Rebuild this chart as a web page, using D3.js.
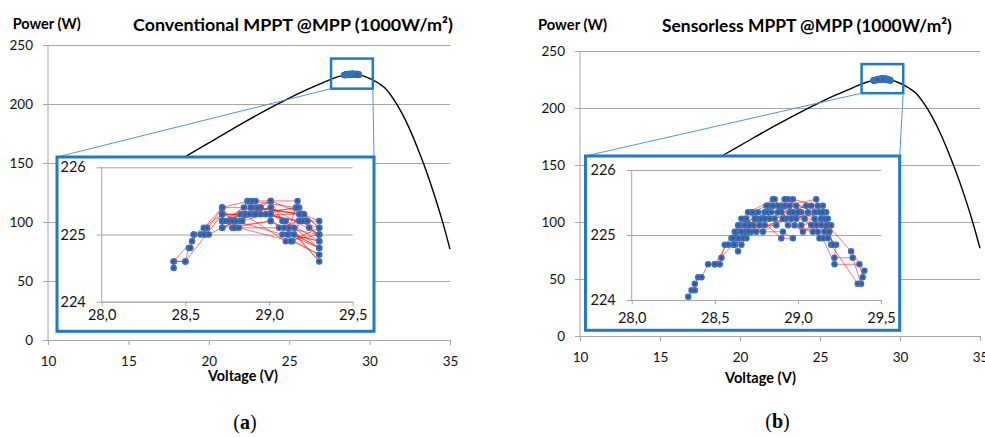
<!DOCTYPE html>
<html>
<head>
<meta charset="utf-8">
<script src="https://cdn.jsdelivr.net/npm/d3@7"></script>
<style>
  body { margin: 0; background: #fff; }
  svg { display: block; }
</style>
</head>
<body>
<svg id="chart" width="985" height="437"></svg>
<script>
// P-V curve at 1000 W/m2 (same panel background for both)
const curveV = [12, 14, 16, 18, 20, 22, 24, 25, 26, 27, 27.5, 28, 28.5, 29, 29.5, 30, 30.5, 31, 31.5, 32, 32.5, 33, 33.5, 34, 34.5, 35]
const curveP = [101, 118, 135, 151, 167, 183, 198, 205, 211.5, 217.5, 220.5, 223, 224.7, 225.2, 224.3, 221.7, 218, 213, 204, 192.5, 178.5, 162, 144, 124, 102, 77]

const xTicks = [10, 15, 20, 25, 30, 35]
const yTicks = [0, 50, 100, 150, 200, 250]
const insetXTicks = [28.0, 28.5, 29.0, 29.5]
const insetYTicks = [224, 225, 226]

// operating points [V, P] in time order
const trackA = [
  [28.43, 224.5], [28.43, 224.6], [28.50, 224.6], [28.52, 224.8], [28.53, 224.8], [28.54, 224.9], [28.55, 225.0], [28.59, 225.0],
  [28.61, 225.1], [28.62, 225.0], [28.63, 225.1], [28.64, 225.0], [28.72, 225.1], [28.72, 225.2], [28.72, 225.3], [28.72, 225.4],
  [28.78, 225.2], [28.80, 225.1], [28.83, 225.3], [28.87, 225.5], [28.90, 225.4], [29.01, 225.5], [29.08, 225.2], [29.12, 225.0],
  [29.30, 224.9], [29.17, 225.5], [28.92, 225.5], [28.72, 225.2], [29.01, 225.4], [29.30, 225.0], [29.10, 224.9], [28.85, 225.3],
  [28.72, 225.3], [29.01, 225.3], [29.30, 225.1], [29.20, 225.3], [28.95, 225.4], [28.78, 225.1], [29.01, 225.2], [29.30, 224.8],
  [29.15, 225.1], [28.88, 225.5], [28.72, 225.4], [28.43, 224.6], [28.50, 224.6], [28.72, 225.3], [28.83, 225.2], [29.01, 225.5],
  [29.30, 225.2], [29.22, 225.2], [29.18, 225.4], [28.90, 225.3], [28.72, 225.1], [28.80, 225.2], [29.08, 225.0], [29.30, 224.7],
  [29.14, 224.9], [29.19, 225.3], [28.93, 225.4], [28.72, 225.2], [28.86, 225.3], [29.01, 225.4], [29.30, 224.6], [29.12, 225.1],
  [29.16, 225.4], [28.90, 225.5], [28.74, 225.2], [28.79, 225.1], [29.09, 225.1], [29.30, 225.0], [29.24, 225.1], [29.20, 225.2],
  [28.95, 225.3], [28.72, 225.3], [28.55, 225.0], [28.61, 225.0], [28.72, 225.4], [28.85, 225.4], [29.01, 225.3], [29.10, 225.2],
  [29.30, 224.9], [29.15, 225.0], [29.21, 225.3], [28.89, 225.4], [28.76, 225.2], [28.82, 225.1], [29.13, 224.9], [29.30, 225.1],
  [29.17, 225.4], [28.88, 225.3], [28.72, 225.1], [29.01, 225.2], [29.30, 224.8], [29.11, 225.0], [29.18, 225.3], [28.92, 225.3],
  [28.78, 225.2], [28.84, 225.2], [28.98, 225.3], [29.06, 225.1], [29.18, 225.2], [29.23, 225.2]
]

const trackB = [
  [28.34, 224.05], [28.36, 224.15], [28.38, 224.15], [28.38, 224.25], [28.40, 224.35], [28.42, 224.35], [28.46, 224.55], [28.50, 224.55],
  [28.53, 224.55], [28.54, 224.65], [28.56, 224.85], [28.61, 224.85], [28.64, 224.75], [28.63, 224.95], [28.66, 224.85], [28.69, 224.95],
  [28.63, 225.05], [28.65, 225.15], [28.68, 225.25], [28.72, 225.35], [28.78, 225.25], [28.83, 225.45], [28.85, 225.55], [28.90, 225.45],
  [28.94, 225.55], [29.02, 225.35], [29.10, 225.25], [29.16, 225.05], [29.23, 224.85], [29.22, 224.65], [29.33, 224.65], [29.38, 224.25],
  [29.40, 224.45], [29.32, 224.75], [29.18, 225.15], [29.12, 225.45], [28.97, 225.55], [28.80, 225.35], [28.70, 225.15], [28.62, 225.05],
  [28.50, 224.55], [28.68, 225.05], [28.75, 225.25], [28.88, 225.45], [29.04, 225.25], [29.15, 224.95], [29.22, 224.55], [29.37, 224.55],
  [29.39, 224.35], [29.36, 224.25], [29.20, 224.85], [29.14, 225.25], [29.11, 225.55], [28.92, 225.45], [28.73, 225.15], [28.64, 224.95],
  [28.58, 224.85], [28.72, 225.05], [28.82, 225.35], [28.95, 225.35], [29.08, 225.15], [29.17, 225.35], [29.05, 225.45], [28.86, 225.25],
  [28.70, 225.05], [28.66, 225.25], [28.77, 225.15], [28.90, 225.35], [28.98, 225.15], [29.12, 225.05], [29.20, 225.15], [29.18, 224.95],
  [29.13, 225.35], [28.96, 225.25], [28.80, 225.15], [28.70, 225.35], [28.86, 225.55], [28.93, 225.25], [29.03, 225.05], [29.16, 225.25],
  [29.21, 224.85], [29.15, 225.45], [28.99, 225.45], [28.84, 225.35], [28.74, 225.25], [28.64, 225.15], [28.60, 224.95], [28.71, 225.15],
  [28.87, 225.15], [29.00, 225.35], [29.14, 225.15], [29.19, 225.05], [29.10, 225.35], [28.92, 225.55], [28.80, 225.25], [28.67, 224.95],
  [28.62, 224.85], [28.75, 225.05], [28.91, 225.25], [29.06, 225.35], [29.17, 225.15], [29.13, 224.95], [29.08, 225.45], [28.88, 225.35],
  [28.76, 225.35], [28.68, 225.15], [28.83, 225.25], [28.95, 225.45], [29.02, 225.15], [29.18, 225.25], [29.11, 225.15], [28.97, 225.35],
  [28.79, 225.05], [28.69, 225.25], [28.85, 225.45], [28.99, 225.25], [29.15, 225.35], [29.09, 225.05], [28.94, 225.15], [28.81, 225.45],
  [28.73, 225.35], [28.90, 224.95], [28.97, 224.95], [28.91, 225.05], [28.66, 225.05], [28.61, 224.95]
]

const panels = [
  { title: 'Conventional MPPT @MPP (1000W/m²)', tag: 'a', track: trackA },
  { title: 'Sensorless MPPT @MPP (1000W/m²)', tag: 'b', track: trackB }
]

// pixel layout of each panel
const layouts = [
  { x0: 48, x1: 450, y0: 340, y1: 45, box: [57, 157, 374, 331.3], ix0: 101.7, ix1: 352.7, iy0: 301.7, iy1: 167.3, ixLabel: 18,
    title: [133, 31, 320], ytitle: [12.7, 29, 68], xtitle: [243, 380.5, 70], tag: [245, 429] },
  { x0: 580, x1: 980, y0: 336, y1: 51, box: [585.5, 156, 899.7, 330.3], ix0: 631.7, ix1: 881, iy0: 300, iy1: 170, ixLabel: 23,
    title: [662, 31.5, 290], ytitle: [538, 30, 69], xtitle: [760.5, 382.5, 71], tag: [777.5, 428] }
]
const zoomV = [27.6, 30.2]
const zoomP = [213, 238.5]

const font = 'Lato, "Open Sans", sans-serif'
const blue = '#1f7bc2'
const grid = '#a6a6a6'
const svg = d3.select('#chart')

panels.forEach((p, i) => drawPanel(p, layouts[i]))

function styleAxis (sel, size) {
  sel.attr('font-family', null).attr('font-size', null)
  sel.selectAll('text').attr('font-family', font).attr('font-size', size).attr('fill', '#111')
  sel.selectAll('line, path').attr('stroke', grid)
}

function fit (t, w) {
  const fs = parseFloat(t.attr('font-size'))
  t.attr('font-size', fs * w / t.node().getComputedTextLength())
}

function drawTrack (g, track, x, y) {
  g.append('g')
    .selectAll('line')
    .data(d3.pairs(track))
    .join('line')
    .attr('x1', d => x(d[0][0])).attr('y1', d => y(d[0][1]))
    .attr('x2', d => x(d[1][0])).attr('y2', d => y(d[1][1]))
    .attr('stroke', '#ff0000')
    .attr('stroke-opacity', 0.6)
    .attr('stroke-width', 0.9)
  g.append('g')
    .selectAll('circle')
    .data(track)
    .join('circle')
    .attr('cx', d => x(d[0])).attr('cy', d => y(d[1]))
    .attr('r', 2.3)
    .attr('fill', '#7030a0')
    .attr('stroke', '#2e75b6')
    .attr('stroke-width', 1.9)
}

function drawPanel (p, L) {
  const g = svg.append('g')
  const x = d3.scaleLinear().domain([10, 35]).range([L.x0, L.x1])
  const y = d3.scaleLinear().domain([0, 250]).range([L.y0, L.y1])

  // gridlines + y labels
  const gy = g.append('g')
    .attr('transform', `translate(${L.x1},0)`)
    .call(d3.axisLeft(y).tickValues(yTicks).tickSize(L.x1 - L.x0 + 5).tickPadding(10))
  gy.select('.domain').remove()
  styleAxis(gy, 13.5)

  g.append('line')
    .attr('x1', L.x0).attr('x2', L.x0)
    .attr('y1', y(0)).attr('y2', y(250))
    .attr('stroke', grid)

  const gx = g.append('g')
    .attr('transform', `translate(0,${L.y0})`)
    .call(d3.axisBottom(x).tickValues(xTicks).tickSize(5).tickSizeOuter(0))
  styleAxis(gx, 13.5)
  gx.selectAll('text').attr('y', 25.5).attr('dy', null)

  // P-V curve
  g.append('path')
    .datum(d3.zip(curveV, curveP))
    .attr('d', d3.line().x(d => x(d[0])).y(d => y(d[1])).curve(d3.curveMonotoneX))
    .attr('fill', 'none')
    .attr('stroke', '#000')
    .attr('stroke-width', 1.4)

  drawTrack(g, p.track, x, y)

  // zoom window and connectors
  g.append('rect')
    .attr('x', x(zoomV[0])).attr('y', y(zoomP[1]))
    .attr('width', x(zoomV[1]) - x(zoomV[0]))
    .attr('height', y(zoomP[0]) - y(zoomP[1]))
    .attr('fill', 'none')
    .attr('stroke', blue)
    .attr('stroke-width', 2.5)

  const [bx0, by0, bx1, by1] = L.box
  g.append('line')
    .attr('x1', x(zoomV[0])).attr('y1', y(zoomP[0]))
    .attr('x2', bx0).attr('y2', by0)
    .attr('stroke', '#4f97d6')
  g.append('line')
    .attr('x1', x(zoomV[1])).attr('y1', y(zoomP[0]))
    .attr('x2', bx1).attr('y2', by0)
    .attr('stroke', '#4f97d6')

  g.append('rect')
    .attr('x', bx0).attr('y', by0)
    .attr('width', bx1 - bx0).attr('height', by1 - by0)
    .attr('fill', '#fff')
    .attr('stroke', blue)
    .attr('stroke-width', 3)

  // inset
  const ix = d3.scaleLinear().domain([28, 29.5]).range([L.ix0, L.ix1])
  const iy = d3.scaleLinear().domain([224, 226]).range([L.iy0, L.iy1])

  const igy = g.append('g')
    .attr('transform', `translate(${L.ix1},0)`)
    .call(d3.axisLeft(iy).tickValues(insetYTicks).tickSize(L.ix1 - L.ix0 + 5).tickPadding(11).tickFormat(d3.format('d')))
  igy.select('.domain').remove()
  styleAxis(igy, 14.5)

  g.append('line')
    .attr('x1', L.ix0).attr('x2', L.ix0)
    .attr('y1', iy(224)).attr('y2', iy(226))
    .attr('stroke', grid)

  const igx = g.append('g')
    .attr('transform', `translate(0,${L.iy0})`)
    .call(d3.axisBottom(ix).tickValues(insetXTicks).tickSize(4).tickSizeOuter(0)
      .tickFormat(d => d3.format('.1f')(d).replace('.', ',')))
  styleAxis(igx, 14.5)
  igx.selectAll('text').attr('y', L.ixLabel).attr('dy', null)

  drawTrack(g, p.track, ix, iy)

  // texts
  const title = g.append('text')
    .attr('x', L.title[0]).attr('y', L.title[1])
    .attr('font-family', font).attr('font-weight', 'bold').attr('font-size', 16)
    .text(p.title)
  fit(title, L.title[2])

  const yt = g.append('text')
    .attr('x', L.ytitle[0]).attr('y', L.ytitle[1])
    .attr('font-family', font).attr('font-weight', 'bold').attr('font-size', 12)
    .text('Power (W)')
  fit(yt, L.ytitle[2])

  const xt = g.append('text')
    .attr('x', L.xtitle[0]).attr('y', L.xtitle[1])
    .attr('text-anchor', 'middle')
    .attr('font-family', font).attr('font-weight', 'bold').attr('font-size', 12)
    .text('Voltage (V)')
  fit(xt, L.xtitle[2])

  const tag = g.append('text')
    .attr('x', L.tag[0]).attr('y', L.tag[1])
    .attr('text-anchor', 'middle')
    .attr('font-family', '"Liberation Serif", serif').attr('font-size', 20)
  tag.append('tspan').text('(')
  tag.append('tspan').attr('font-weight', 'bold').text(p.tag)
  tag.append('tspan').text(')')
}
</script>
</body>
</html>
